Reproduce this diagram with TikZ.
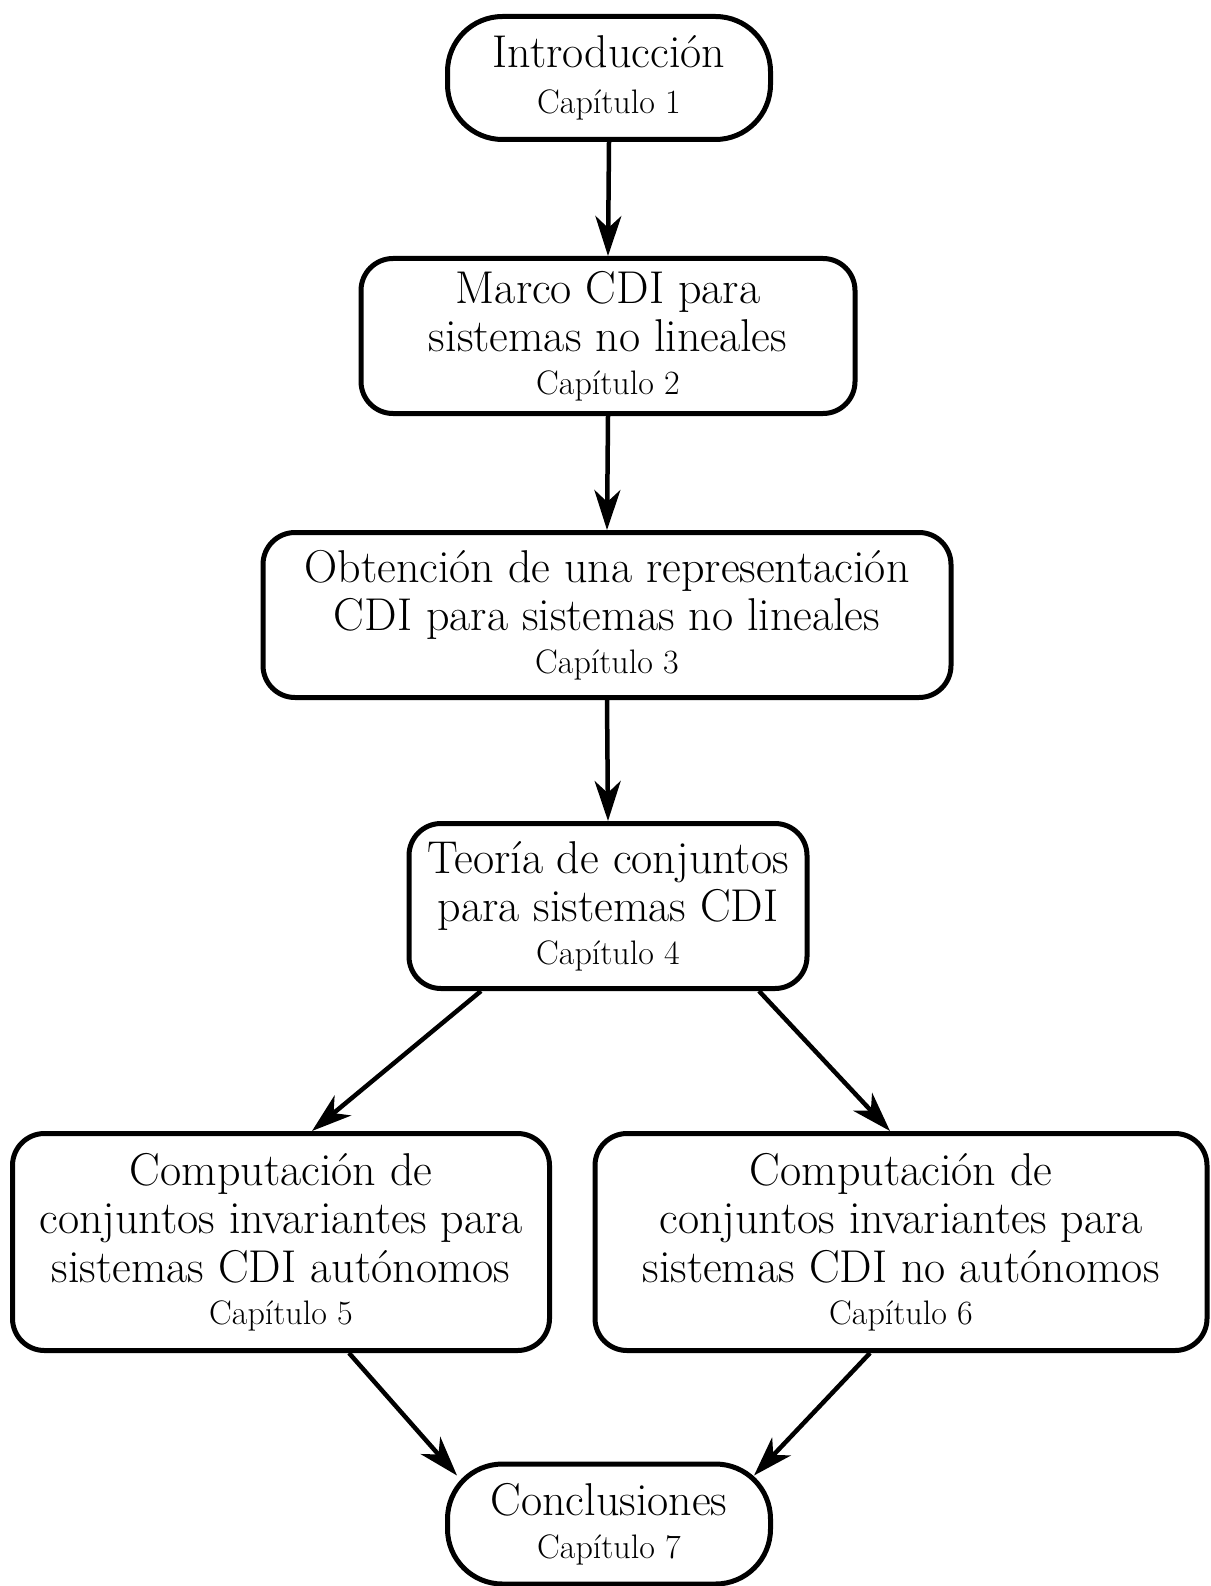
\documentclass[tikz,border=0pt]{standalone}
\usepackage{fontspec}
\usetikzlibrary{arrows.meta}
\newcommand\mainfs{\fontsize{46}{48.5}\selectfont}
\newcommand\capfs{\fontsize{34}{41}\selectfont}
\tikzset{
  box/.style={draw, line width=5pt, rounded corners=32pt, align=center, font=\mainfs, inner sep=0pt},
  pill/.style={box, rounded corners=55pt},
  arr/.style={-{Stealth[length=40pt,width=26pt,inset=12pt]}, line width=4.5pt},
}
\begin{document}
\begin{tikzpicture}[x=1pt,y=1pt]
\useasboundingbox (0,0) rectangle (1210,-1586);
\node[pill, minimum width=323pt, minimum height=123pt] (n1) at (609,-78) {Introducción\\[-3pt]{\capfs Capítulo 1}};
\node[box, minimum width=494pt, minimum height=155pt] (n2) at (608,-336) {Marco CDI para\\sistemas no lineales\\[-6pt]{\capfs Capítulo 2}};
\node[box, minimum width=688pt, minimum height=165pt] (n3) at (607,-615) {Obtención de una representación\\CDI para sistemas no lineales\\[-6pt]{\capfs Capítulo 3}};
\node[box, minimum width=398pt, minimum height=165pt] (n4) at (608,-906) {Teoría de conjuntos\\para sistemas CDI\\[-6pt]{\capfs Capítulo 4}};
\node[box, minimum width=537pt, minimum height=217pt] (n5) at (281,-1242) {Computación de\\conjuntos invariantes para\\sistemas CDI autónomos\\[-6pt]{\capfs Capítulo 5}};
\node[box, minimum width=612pt, minimum height=217pt] (n6) at (901,-1242) {Computación de\\conjuntos invariantes para\\sistemas CDI no autónomos\\[-6pt]{\capfs Capítulo 6}};
\node[pill, minimum width=323pt, minimum height=120pt] (n7) at (609,-1524) {Conclusiones\\[-6pt]{\capfs Capítulo 7}};
\draw[arr] (n1.south) -- (n2.north);
\draw[arr] (n2.south) -- (n3.north);
\draw[arr] (n3.south) -- (n4.north);
\draw[arr] ([xshift=-127pt]n4.south) -- ([xshift=31pt]n5.north);
\draw[arr] ([xshift=151pt]n4.south) -- ([xshift=-11pt]n6.north);
\draw[arr] ([xshift=68pt]n5.south) -- ([xshift=-152pt,yshift=-14pt]n7.north);
\draw[arr] ([xshift=-31pt]n6.south) -- ([xshift=145pt,yshift=-14pt]n7.north);
\end{tikzpicture}
\end{document}
